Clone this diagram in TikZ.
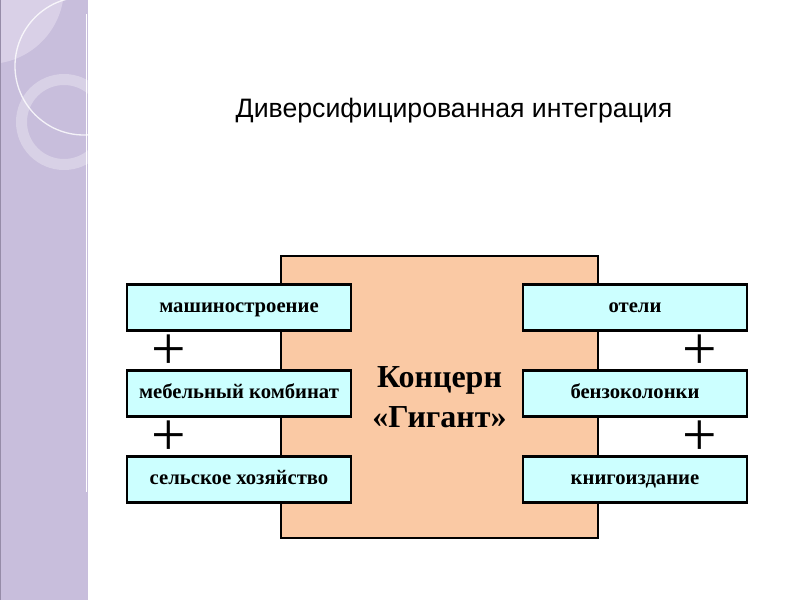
\documentclass[tikz,border=0pt]{standalone}
\usepackage{fontspec}
\setmainfont{Liberation Serif}
\newfontfamily\titlefont{Liberation Sans}
\usepackage{xcolor}
\definecolor{lilac}{RGB}{200,190,220}
\definecolor{lilaclight}{RGB}{217,208,231}
\definecolor{lilacedge}{RGB}{150,140,168}
\definecolor{peach}{RGB}{250,201,164}
\definecolor{lightcyan}{RGB}{204,255,255}
\usetikzlibrary{positioning,calc}
\tikzset{
	concern/.style = {rectangle,draw=black,line width=1.8pt,fill=peach,
		minimum width=237.75pt,minimum height=211.5pt,align=center,
		font=\fontsize{24}{30}\selectfont\bfseries},
	sect/.style    = {rectangle,draw=black,line width=1.8pt,fill=lightcyan,
		minimum width=168pt,minimum height=34.5pt,inner sep=0pt,
		text height=7.2pt,text depth=0pt,
		font=\fontsize{15.5}{18}\selectfont\bfseries},
	plus/.style    = {inner sep=0pt,yshift=-1.5pt,font=\fontsize{46}{46}\selectfont},
	ttl/.style     = {font=\titlefont\fontsize{20}{22}\selectfont},
}
\begin{document}
\begin{tikzpicture}[x=0.75pt,y=-0.75pt,node distance=28.2pt and 127.2pt]
	\useasboundingbox (0,0) rectangle (800,600);
	%% Decorative strip
	\begin{scope}
		\clip (0,0) rectangle (88,600);
		\fill[lilac] (0,0) rectangle (88,600);
		\fill[lilaclight] (-12,-12) circle (76);
		\draw[white,line width=1pt,opacity=0.8] (84,66) circle (69);
		\fill[white,opacity=0.3,even odd rule] (64,122) circle (48) (64,122) circle (37);
	\end{scope}
	\draw[lilacedge,line width=1pt] (0.5,0) -- (0.5,600);
	\draw[white,line width=1.2pt] (86.5,14) -- (86.5,492);
	
	%% Title
	\node (title) [ttl] at (454,111) {Диверсифицированная интеграция};
	
	%% Concern
	\node (giant) [concern] at (439.5,397) {Концерн\\«Гигант»};
	
	%% Left sectors
	\node (mash)  [sect] at (239,307.5) {машиностроение};
	\node (mebel) [sect,below=of mash]  {мебельный комбинат};
	\node (selhoz)[sect,below=of mebel] {сельское хозяйство};
	
	%% Right sectors
	\node (hotel) [sect,right=of mash]  {отели};
	\node (benz)  [sect,below=of hotel] {бензоколонки};
	\node (book)  [sect,below=of benz]  {книгоиздание};
	
	%% Plus signs
	\node (pl1) [plus] at ($(mash.south west)!.5!(mebel.north west)+(43,0)$) {+};
	\node (pl2) [plus] at ($(mebel.south west)!.5!(selhoz.north west)+(43,0)$) {+};
	\node (pr1) [plus] at ($(hotel.south east)!.5!(benz.north east)+(-48,0)$) {+};
	\node (pr2) [plus] at ($(benz.south east)!.5!(book.north east)+(-48,0)$) {+};
\end{tikzpicture}
\end{document}
